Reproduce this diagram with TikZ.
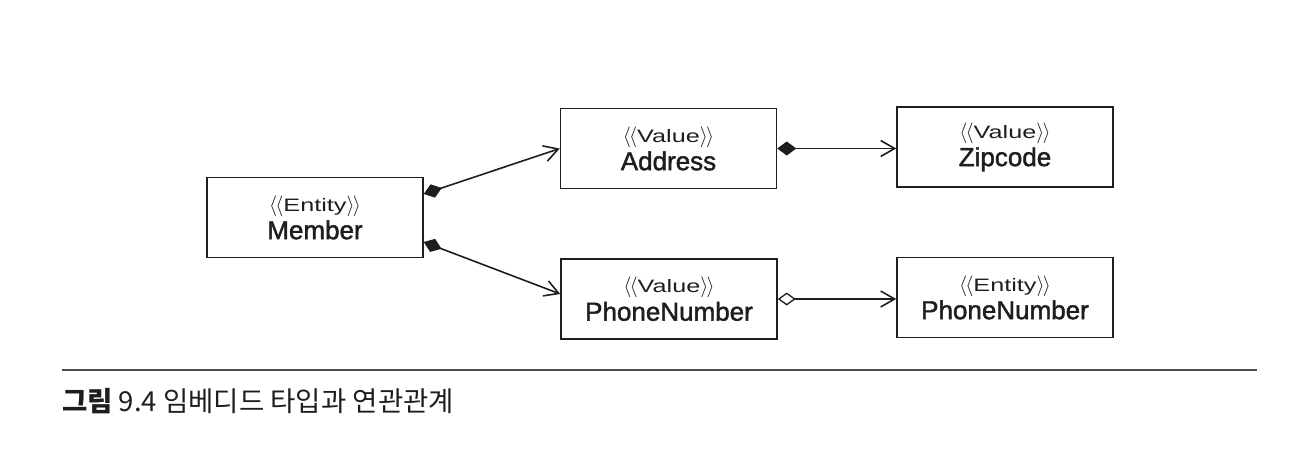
\documentclass[tikz,border=0pt]{standalone}
\usepackage{fontspec}
\setmainfont{Liberation Sans}
\newfontfamily\stfont[FakeStretch=1.4]{Liberation Sans}
\newfontfamily\nmfont[FakeBold=1.6]{Liberation Sans}
\newfontfamily\kr{Noto Sans CJK KR}
\usetikzlibrary{arrows.meta}
\definecolor{ink}{HTML}{1E1E1E}
\tikzset{
  umlbox/.style={draw=ink, line width=1.5pt, minimum width=216pt, minimum height=80pt,
    align=center, inner sep=0pt, text=ink},
  comp/.style={draw=ink, line width=1.6pt,
    {Diamond[fill=ink, length=19pt, width=14pt, line width=1pt]}-{Straight Barb[length=14pt, width=16pt, line width=1.6pt]}},
  aggr/.style={draw=ink, line width=1.6pt,
    {Diamond[open, fill=white, length=18pt, width=13pt, line width=1.3pt]}-{Straight Barb[length=14pt, width=16pt, line width=1.6pt]}},
}
\newcommand{\lbr}{{\fontsize{21}{21}\selectfont$\langle\mkern-1.5mu\langle$}}
\newcommand{\rbr}{{\fontsize{21}{21}\selectfont$\rangle\mkern-1.5mu\rangle$}}
\newcommand{\stereo}[1]{{\stfont\fontsize{18}{20}\selectfont\lbr#1\rbr}}
\newcommand{\nm}[1]{{\nmfont\fontsize{26}{28}\selectfont #1}}
\begin{document}
\begin{tikzpicture}[x=1pt,y=-1pt]
\useasboundingbox (0,0) rectangle (1309,448);
\node[umlbox] (member) at (315,217.5) {\stereo{Entity}\\[3pt]\nm{Member}};
\node[umlbox] (address) at (668.5,148.5) {\stereo{Value}\\[3pt]\nm{Address}};
\node[umlbox] (phonev) at (669,299) {\stereo{Value}\\[3pt]\nm{PhoneNumber}};
\node[umlbox] (zip) at (1005,147) {\stereo{Value}\\[3pt]\nm{Zipcode}};
\node[umlbox] (phonee) at (1005,297.5) {\stereo{Entity}\\[3pt]\nm{PhoneNumber}};
\draw[comp] ([yshift=23.5pt]member.east) -- (address.west);
\draw[comp] ([yshift=-24.5pt]member.east) -- ([yshift=5pt]phonev.west);
\draw[comp] (address.east) -- (address.east -| zip.west);
\draw[aggr] (phonev.east) -- (phonev.east -| phonee.west);
\coordinate (rl) at (62,370);
\coordinate (rr) at (1257,370);
\draw[draw=black!70, line width=1.4pt] (rl) -- (rr);
\node[anchor=west, inner sep=0pt, text=ink] (cap) at (62,401)
  {\kr\fontsize{27.5}{30}\selectfont\textbf{그림} 9.4 임베디드 타입과 연관관계};
\end{tikzpicture}
\end{document}
